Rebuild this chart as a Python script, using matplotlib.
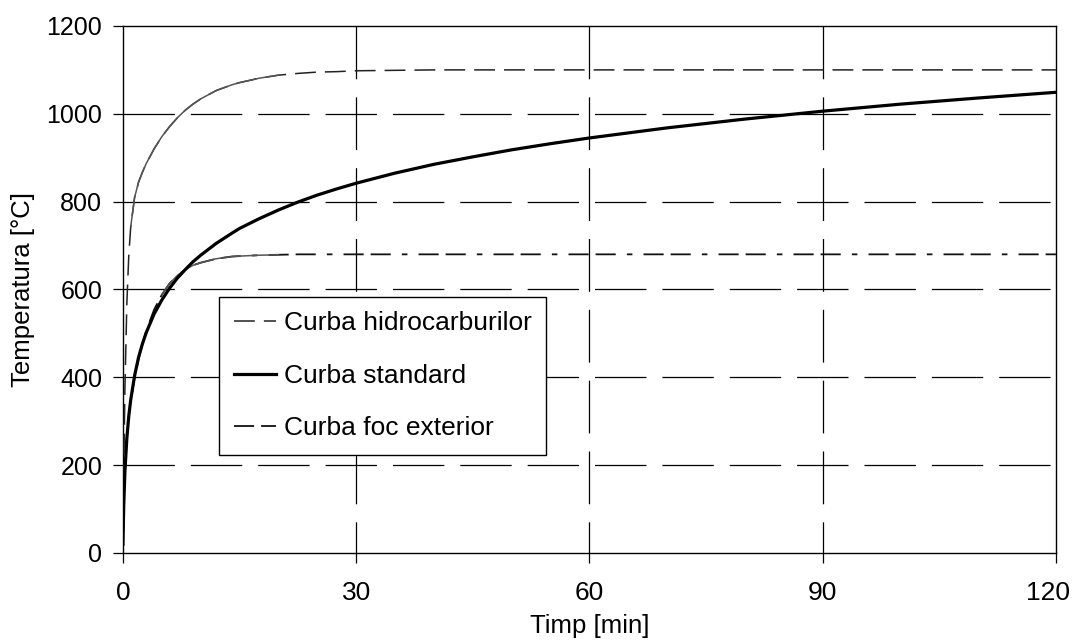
import numpy as np
import matplotlib
matplotlib.use("Agg")
import matplotlib.pyplot as plt
from matplotlib.transforms import ScaledTranslation

plt.rcParams["font.family"] = ["Liberation Sans", "DejaVu Sans"]
plt.rcParams["lines.scale_dashes"] = False

# valori
timp = [0, 0.1, 0.25, 0.5, 0.75, 1, 1.5, 2, 2.5, 3, 4, 5, 6, 7, 8, 9, 10, 12, 14,
        15, 17.5, 20, 22.5, 25, 27.5, 30, 35, 40, 45, 50, 55, 60, 70, 80, 90,
        100, 110, 120]
curba_standard = [20, 108, 185, 261, 312, 349, 404, 445, 476, 502, 544, 576, 603,
                  626, 645, 663, 678, 705, 728, 739, 761, 781, 799, 815, 829, 842,
                  865, 885, 902, 918, 932, 945, 968, 988, 1006, 1022, 1036, 1049]
curba_hidro = [20, 187, 373, 568, 678, 743, 810, 844, 867, 887, 920, 948, 971,
               991, 1008, 1022, 1034, 1053, 1066, 1071, 1081, 1088, 1092, 1095,
               1096, 1098, 1099, 1100, 1100, 1100, 1100, 1100, 1100, 1100, 1100,
               1100, 1100, 1100]
curba_exterior = [20, 100, 182, 263, 311, 346, 399, 441, 476, 506, 554, 588, 614,
                  632, 645, 655, 661, 670, 675, 676, 678, 679, 680, 680, 680, 680,
                  680, 680, 680, 680, 680, 680, 680, 680, 680, 680, 680, 680]

xticks = [0, 30, 60, 90, 120]
yticks = [0, 200, 400, 600, 800, 1000, 1200]

t = np.array(timp)
fig = plt.figure(figsize=(10.72, 6.43), dpi=100)
ax = fig.add_axes([0.1147, 0.140, 0.8703, 0.8196])

# grila (verticalele desenate de sus in jos, ca in original)
for x in xticks[1:-1]:
    ax.plot([x, x], [yticks[-1], yticks[0]], color="black", lw=0.9,
            ls=(0, (38, 13)), zorder=1)
for y in yticks[1:-1]:
    ax.axhline(y, color="black", lw=0.9, ls=(0, (37, 11.5)), zorder=1)

l_h, = ax.plot(timp, curba_hidro, color="#222222", lw=1.1, ls=(0, (15, 6.5)),
               label="Curba hidrocarburilor", zorder=3)
m = (t >= 1) & (t <= 20)
ax.plot(t[m], np.array(curba_hidro)[m], color="#555555", lw=1.1, zorder=3)

l_s, = ax.plot(timp, curba_standard, color="black", lw=2.3,
               label="Curba standard", zorder=4)

l_e, = ax.plot(timp, curba_exterior, color="#111111", lw=1.3,
               ls=(0, (14.5, 5, 14.5, 8, 4, 8)), label="Curba foc exterior", zorder=3)
m2 = (t >= 5) & (t <= 20)
ax.plot(t[m2], np.array(curba_exterior)[m2], color="#555555", lw=1.1, zorder=3)

ax.set_xlim(0, 120)
ax.set_ylim(0, 1200)
ax.set_xticks(xticks)
ax.set_yticks(yticks)
ax.tick_params(direction="out", length=7, width=0.9, color="black")
ax.tick_params(axis="y", labelsize=18, pad=8)
ax.tick_params(axis="x", labelsize=19, pad=13)
for sp in ax.spines.values():
    sp.set_linewidth(1.0)

# "120" putin spre stanga, ca in original, sa ramana in imagine
lab120 = ax.get_xticklabels()[-1]
lab120.set_transform(lab120.get_transform() +
                     ScaledTranslation(-0.08, 0, fig.dpi_scale_trans))

ax.set_xlabel("Timp [min]", fontsize=18.5, labelpad=7)
ax.set_ylabel("Temperatura [°C]", fontsize=18.5, labelpad=8)

leg = ax.legend(handles=[l_h, l_s, l_e], loc="upper left",
                bbox_to_anchor=(0.103, 0.486), borderaxespad=0, fontsize=19,
                frameon=True, fancybox=False, edgecolor="black", framealpha=1,
                handlelength=1.6, handletextpad=0.3, labelspacing=1.08,
                borderpad=0.55)
leg.get_frame().set_linewidth(1.0)
leg.set_zorder(5)

fig.savefig("out.png", dpi=100)
